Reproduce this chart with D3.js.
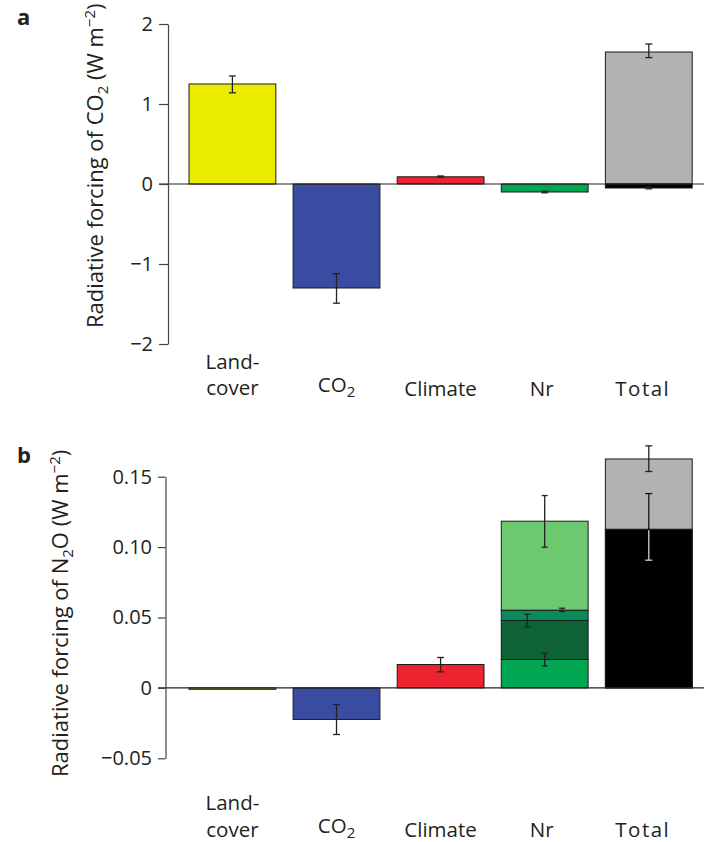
<!DOCTYPE html>
<html>
<head>
<meta charset="utf-8">
<script src="https://cdn.jsdelivr.net/npm/d3@7"></script>
<style>
  body { margin: 0; background: #fff; }
  svg { display: block; font-family: "Open Sans", sans-serif; }
</style>
</head>
<body>
<div id="chart"></div>
<script>
//// data
const categories = ["Land-cover", "CO2", "Climate", "Nr", "Total"]
const barColors = ["#ebeb00", "#3a4ba2", "#ed2330", "#00a651", "#000000"]
const grossColor = "#b2b2b2"

// panel a: CO2 forcing (W m-2); Total entry is the net (black) part
const co2Values = [1.25, -1.30, 0.09, -0.10, -0.05]
const co2ErrLow = [1.14, -1.49, 0.085, -0.11, -0.06]
const co2ErrHigh = [1.35, -1.12, 0.10, -0.09, -0.04]
const co2TotalGross = 1.65
const co2TotalGrossErr = [1.58, 1.75]
const co2Ticks = [-2, -1, 0, 1, 2]

// panel b: N2O forcing (W m-2); Nr is a stack, Total entry is the net (black) part
const n2oValues = [-0.001, -0.0224, 0.0166, null, 0.1127]
const n2oErrLow = [null, -0.0331, 0.0114, null, 0.0907]
const n2oErrHigh = [null, -0.0118, 0.0216, null, 0.138]
const n2oTotalGross = 0.1626
const n2oTotalGrossErr = [0.1537, 0.1719]
const nrParts = [0.0202, 0.0277, 0.0073, 0.0632]
const nrErrLow = [0.0156, 0.0433, 0.0543, 0.0999]
const nrErrHigh = [0.0246, 0.0523, 0.0566, 0.1366]
const nrColors = ["#00a651", "#0d6236", "#0a8a5a", "#6cc96f"]
const n2oTicks = [-0.05, 0, 0.05, 0.10, 0.15]

//// layout
const W = 704, H = 842
const textColor = "#231f20"
const nrErrPos = [0.5, 0.3, 0.7, 0.5]   // where each Nr error bar sits across the bar

const svg = d3.select("#chart").append("svg").attr("width", W).attr("height", H)

const x = d3.scaleBand().domain(categories).range([189, 692.2]).paddingInner(0.166).paddingOuter(0)
const xMid = c => x(c) + x.bandwidth() / 2

function errorBar(g, cx, yLo, yHi, color, capW) {
    g.append("line").attr("x1", cx).attr("x2", cx).attr("y1", yLo).attr("y2", yHi)
        .attr("stroke", color).attr("stroke-width", 1.3)
    for (let yy of [yLo, yHi]) {
        g.append("line").attr("x1", cx - capW / 2).attr("x2", cx + capW / 2).attr("y1", yy).attr("y2", yy)
            .attr("stroke", color).attr("stroke-width", 1.3)
    }
}

function rect(g, x0, w, y0, y1, fill) {
    g.append("rect").attr("x", x0).attr("width", w)
        .attr("y", Math.min(y0, y1)).attr("height", Math.max(Math.abs(y1 - y0), 1))
        .attr("fill", fill).attr("stroke", "#1a1a1a").attr("stroke-width", 1)
}

function yAxisDraw(g, y, axisX, ticks, fmt, tickLen) {
    g.attr("transform", `translate(${axisX},0)`)
        .call(d3.axisLeft(y).tickValues(ticks).tickFormat(fmt).tickSize(tickLen).tickPadding(6).tickSizeOuter(0))
    g.select(".domain").attr("stroke", "#444").attr("stroke-width", 1.2)
    g.selectAll(".tick line").attr("stroke", "#444").attr("stroke-width", 1.2)
    g.selectAll(".tick text").attr("font-size", 20).attr("font-family", "Open Sans").attr("fill", textColor)
}

function title(tx, ty, gas, sub, extra) {
    let t = svg.append("text").attr("transform", `translate(${tx},${ty}) rotate(-90)`)
        .attr("font-size", 22).attr("fill", textColor)
    t.append("tspan").text("Radiative forcing of " + gas)
    t.append("tspan").attr("font-size", 15).attr("dy", 5).text("2")
    if (extra) t.append("tspan").attr("dy", -5).text(extra)
    t.append("tspan").attr("dy", extra ? 0 : -5).text(" (W m")
    t.append("tspan").attr("font-size", 15).attr("dy", -8).text("\u22122")
    t.append("tspan").attr("dy", 8).text(")")
}

function categoryLabels(yLand, yCover, yMain) {
    let g = svg.append("g").attr("fill", textColor).attr("font-size", 20.5).attr("text-anchor", "middle")
    g.append("text").attr("x", xMid("Land-cover")).attr("y", yLand).text("Land-")
    g.append("text").attr("x", xMid("Land-cover")).attr("y", yCover).text("cover")
    let c = g.append("text").attr("x", xMid("CO2")).attr("y", yMain - 4)
    c.append("tspan").text("CO")
    c.append("tspan").attr("font-size", 15).attr("dy", 5).text("2")
    g.append("text").attr("x", xMid("Climate")).attr("y", yMain).text("Climate")
    g.append("text").attr("x", xMid("Nr") - 3).attr("y", yMain).text("Nr")
    g.append("text").attr("x", xMid("Total") - 6).attr("y", yMain).attr("letter-spacing", 1.5).text("Total")
}

//// PANEL a
const ya = d3.scaleLinear().domain([-2, 2]).range([344, 24])
const ga = svg.append("g")
categories.forEach((c, i) => {
    if (c == "Total") rect(ga, x(c), x.bandwidth(), ya(0), ya(co2TotalGross), grossColor)
    rect(ga, x(c), x.bandwidth(), ya(0), ya(co2Values[i]), barColors[i])
})
ga.append("line").attr("x1", 159).attr("x2", 704).attr("y1", ya(0)).attr("y2", ya(0))
    .attr("stroke", "#222").attr("stroke-width", 1.2)
categories.forEach((c, i) => {
    errorBar(ga, xMid(c), ya(co2ErrLow[i]), ya(co2ErrHigh[i]), "#222", 7)
})
errorBar(ga, xMid("Total"), ya(co2TotalGrossErr[0]), ya(co2TotalGrossErr[1]), "#222", 7)

yAxisDraw(svg.append("g"), ya, 168, co2Ticks, d => d < 0 ? "\u2212" + Math.abs(d) : String(d), 9)
title(103, 328, "CO", "2")
categoryLabels(369, 395, 396)
svg.append("text").attr("x", 17).attr("y", 25).attr("font-size", 22).attr("font-weight", "bold")
    .attr("fill", textColor).text("a")

//// PANEL b
const yb = d3.scaleLinear().domain([-0.05, 0.15]).range([758.3, 476.7])
const gb = svg.append("g")
categories.forEach((c, i) => {
    if (c == "Nr") {
        let base = 0
        nrParts.forEach((p, k) => {
            rect(gb, x(c), x.bandwidth(), yb(base), yb(base + p), nrColors[k])
            base += p
        })
    } else {
        if (c == "Total") rect(gb, x(c), x.bandwidth(), yb(0), yb(n2oTotalGross), grossColor)
        rect(gb, x(c), x.bandwidth(), yb(0), yb(n2oValues[i]), barColors[i])
    }
})
gb.append("line").attr("x1", 158).attr("x2", 704).attr("y1", yb(0)).attr("y2", yb(0))
    .attr("stroke", "#222").attr("stroke-width", 1.2)
categories.forEach((c, i) => {
    if (n2oErrLow[i] == null) return
    let cx = xMid(c)
    if (c == "Total") {
        // part of the bar that lies over the black block is drawn light
        let top = yb(n2oValues[i])
        errorBar(gb, cx, yb(n2oErrLow[i]), yb(n2oErrHigh[i]), "#111", 7)
        gb.append("line").attr("x1", cx).attr("x2", cx).attr("y1", top + 1).attr("y2", yb(n2oErrLow[i]))
            .attr("stroke", "#cfcfcf").attr("stroke-width", 1.3)
        gb.append("line").attr("x1", cx - 3.5).attr("x2", cx + 3.5).attr("y1", yb(n2oErrLow[i])).attr("y2", yb(n2oErrLow[i]))
            .attr("stroke", "#cfcfcf").attr("stroke-width", 1.3)
    } else {
        errorBar(gb, cx, yb(n2oErrLow[i]), yb(n2oErrHigh[i]), "#222", 7)
    }
})
nrParts.forEach((p, k) => {
    let cx = x("Nr") + x.bandwidth() * nrErrPos[k]
    errorBar(gb, cx, yb(nrErrLow[k]), yb(nrErrHigh[k]), "#222", 6)
})
errorBar(gb, xMid("Total"), yb(n2oTotalGrossErr[0]), yb(n2oTotalGrossErr[1]), "#222", 7)

yAxisDraw(svg.append("g"), yb, 165.5, n2oTicks,
    d => d == 0 ? "0" : (d < 0 ? "\u2212" : "") + d3.format(".2f")(Math.abs(d)), 7.5)
title(68, 777, "N", "2", "O")
categoryLabels(810, 837, 837)
svg.append("text").attr("x", 17).attr("y", 463).attr("font-size", 22).attr("font-weight", "bold")
    .attr("fill", textColor).text("b")
</script>
</body>
</html>
